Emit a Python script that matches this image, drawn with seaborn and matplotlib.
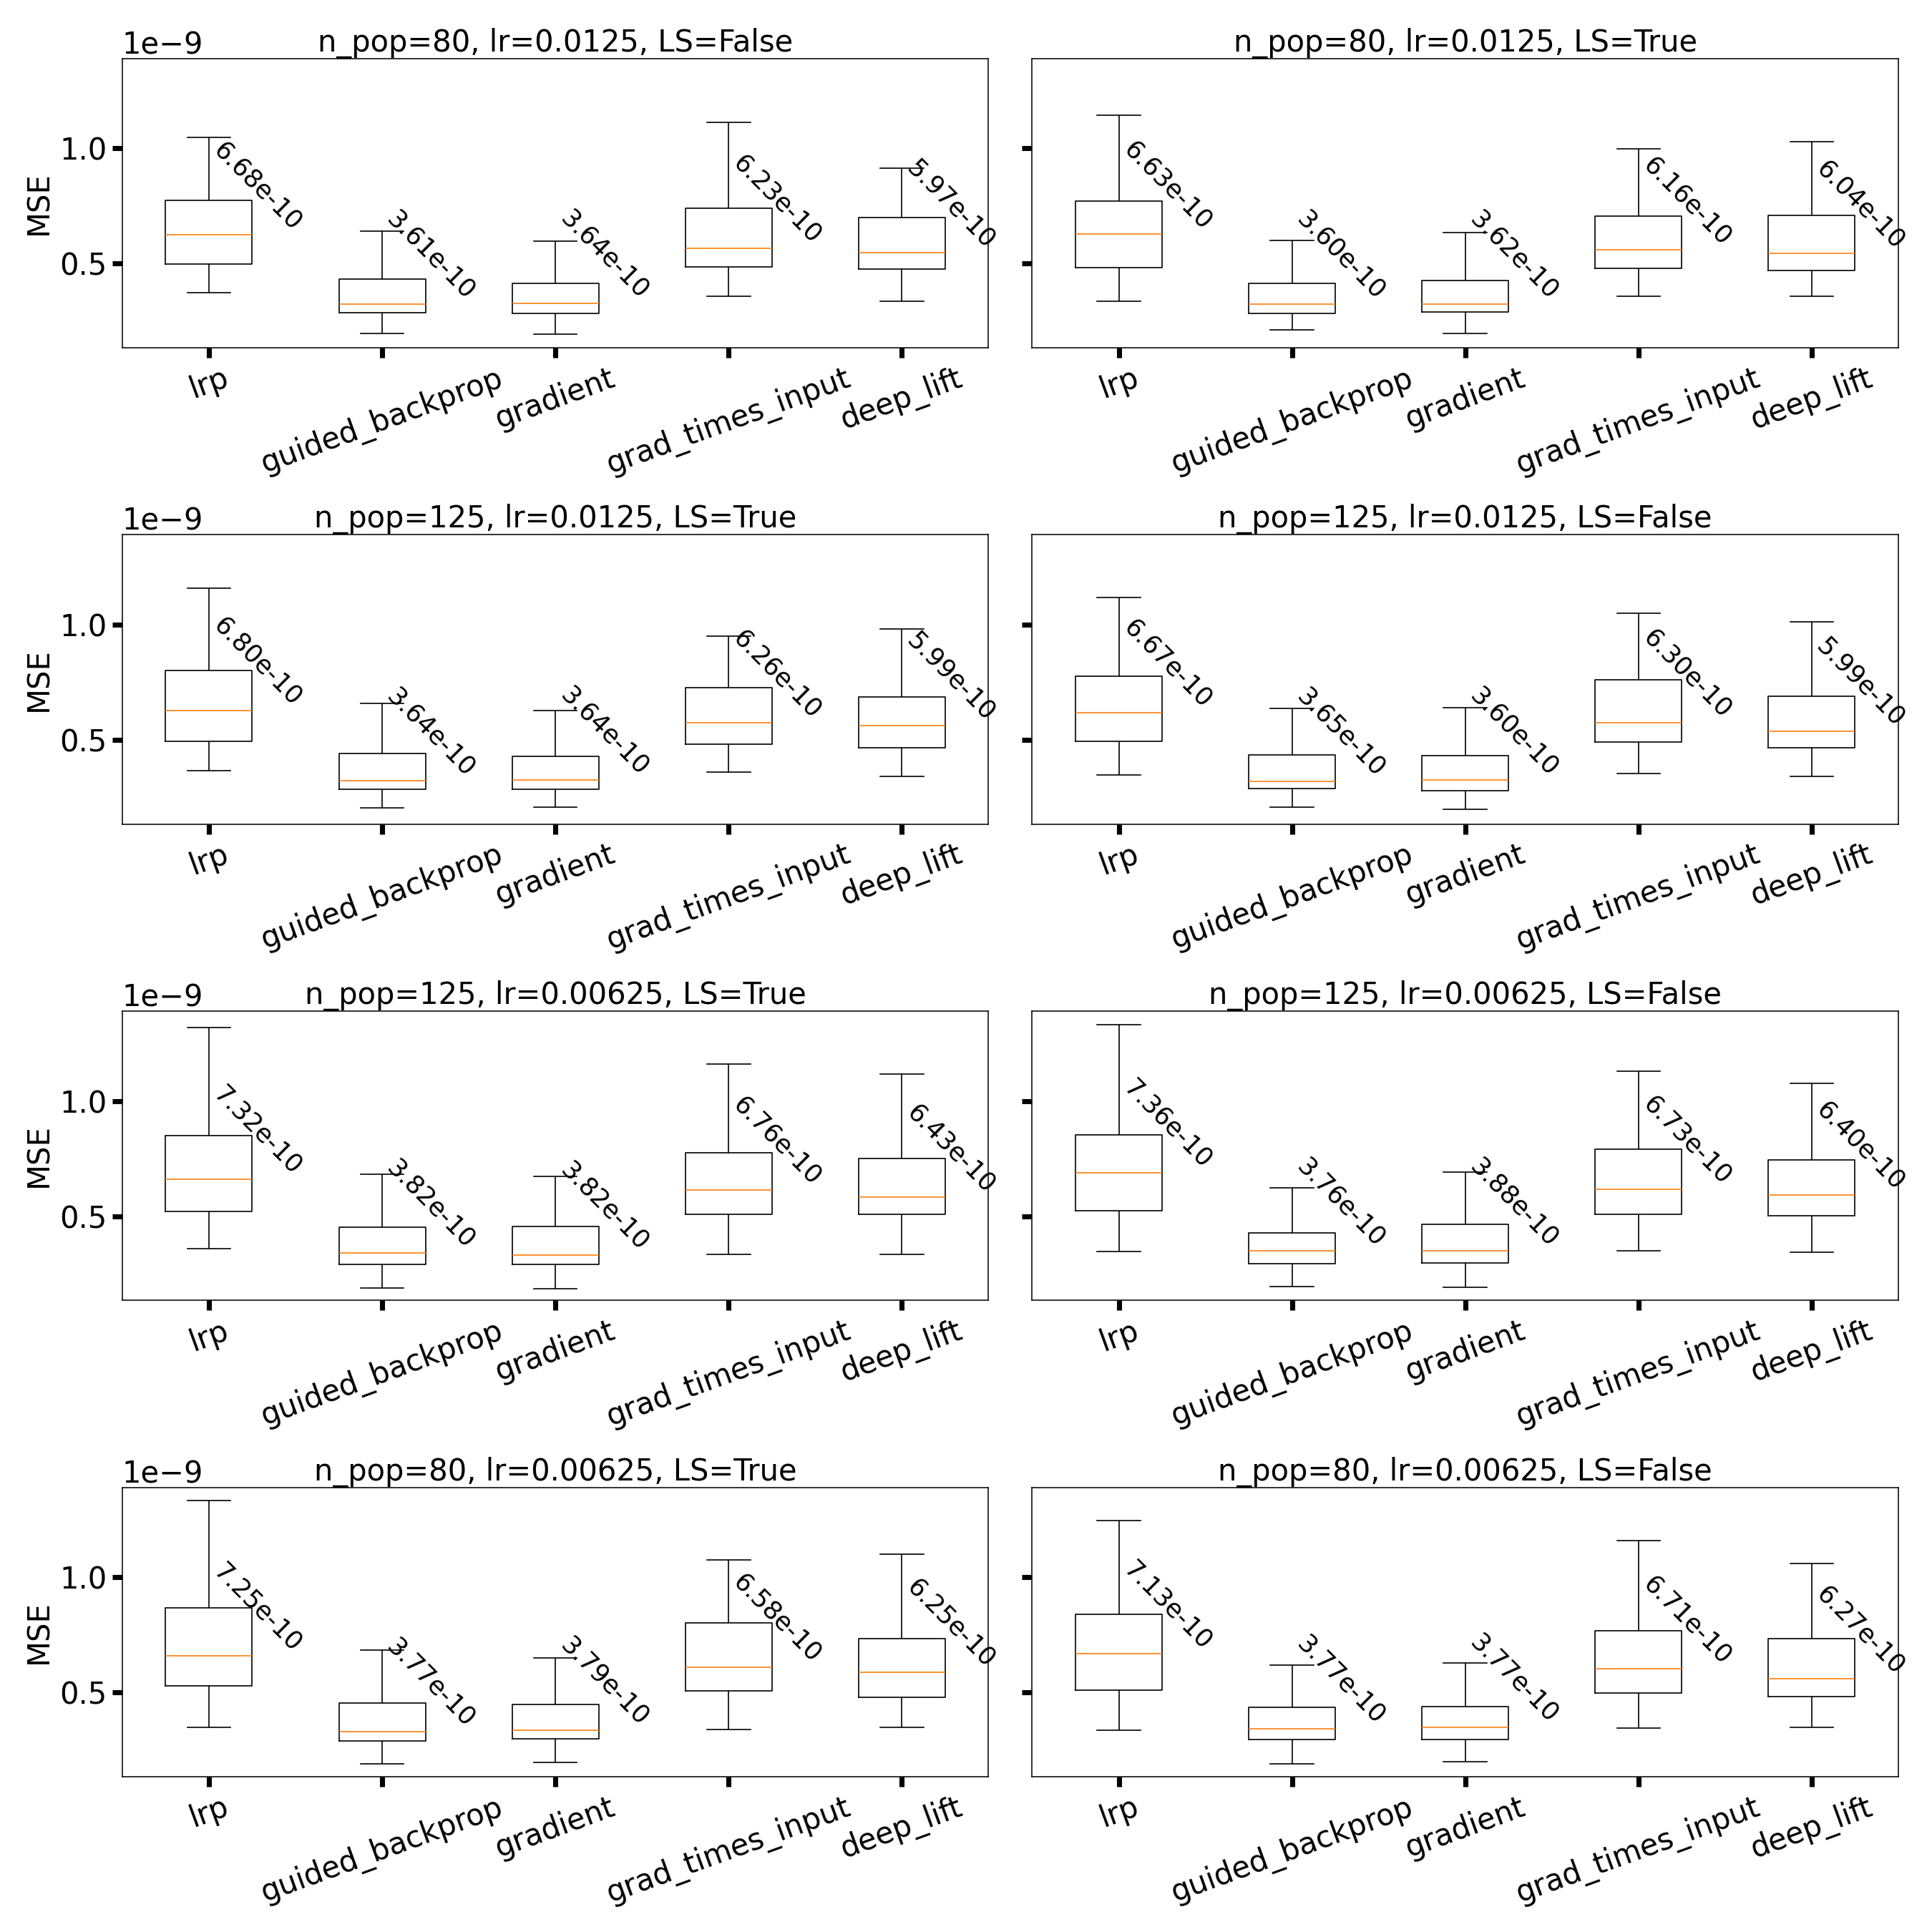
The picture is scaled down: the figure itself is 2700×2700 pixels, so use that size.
import matplotlib
matplotlib.use("Agg")
import matplotlib.pyplot as plt
from matplotlib.ticker import MultipleLocator
import pandas as pd
import seaborn as sns

methods = ["lrp", "guided_backprop", "gradient", "grad_times_input", "deep_lift"]

panel_titles = [
    "n_pop=80, lr=0.0125, LS=False",
    "n_pop=80, lr=0.0125, LS=True",
    "n_pop=125, lr=0.0125, LS=True",
    "n_pop=125, lr=0.0125, LS=False",
    "n_pop=125, lr=0.00625, LS=True",
    "n_pop=125, lr=0.00625, LS=False",
    "n_pop=80, lr=0.00625, LS=True",
    "n_pop=80, lr=0.00625, LS=False",
]

# five-number summaries, in units of 1e-9
whisker_low = [
    [0.372, 0.196, 0.193, 0.359, 0.337],
    [0.337, 0.212, 0.196, 0.359, 0.359],
    [0.365, 0.203, 0.207, 0.359, 0.341],
    [0.348, 0.206, 0.198, 0.354, 0.340],
    [0.360, 0.189, 0.185, 0.333, 0.333],
    [0.346, 0.195, 0.192, 0.350, 0.343],
    [0.349, 0.190, 0.197, 0.339, 0.349],
    [0.336, 0.189, 0.199, 0.346, 0.349],
]
quartile1 = [
    [0.496, 0.286, 0.284, 0.486, 0.475],
    [0.482, 0.284, 0.288, 0.478, 0.468],
    [0.494, 0.286, 0.284, 0.480, 0.465],
    [0.492, 0.287, 0.280, 0.489, 0.465],
    [0.520, 0.290, 0.290, 0.508, 0.508],
    [0.522, 0.292, 0.295, 0.507, 0.501],
    [0.527, 0.289, 0.297, 0.508, 0.480],
    [0.510, 0.296, 0.296, 0.496, 0.483],
]
medians = [
    [0.624, 0.324, 0.328, 0.566, 0.546],
    [0.627, 0.324, 0.324, 0.559, 0.543],
    [0.627, 0.321, 0.325, 0.573, 0.563],
    [0.619, 0.320, 0.324, 0.574, 0.538],
    [0.660, 0.340, 0.331, 0.613, 0.581],
    [0.688, 0.348, 0.348, 0.618, 0.591],
    [0.658, 0.331, 0.337, 0.609, 0.588],
    [0.667, 0.342, 0.349, 0.602, 0.559],
]
quartile3 = [
    [0.775, 0.433, 0.415, 0.740, 0.701],
    [0.771, 0.415, 0.427, 0.705, 0.708],
    [0.800, 0.440, 0.427, 0.728, 0.687],
    [0.775, 0.435, 0.430, 0.760, 0.688],
    [0.849, 0.451, 0.456, 0.775, 0.751],
    [0.854, 0.427, 0.463, 0.792, 0.743],
    [0.866, 0.455, 0.448, 0.802, 0.733],
    [0.838, 0.434, 0.437, 0.769, 0.734],
]
whisker_high = [
    [1.049, 0.642, 0.596, 1.112, 0.913],
    [1.145, 0.601, 0.635, 0.997, 1.029],
    [1.159, 0.659, 0.627, 0.950, 0.982],
    [1.117, 0.635, 0.638, 1.049, 1.011],
    [1.318, 0.682, 0.674, 1.160, 1.116],
    [1.333, 0.624, 0.691, 1.128, 1.076],
    [1.335, 0.684, 0.649, 1.074, 1.101],
    [1.245, 0.618, 0.627, 1.158, 1.059],
]
# mean MSE (annotated), in units of 1e-10
means = [
    [6.68, 3.61, 3.64, 6.23, 5.97],
    [6.63, 3.60, 3.62, 6.16, 6.04],
    [6.80, 3.64, 3.64, 6.26, 5.99],
    [6.67, 3.65, 3.60, 6.30, 5.99],
    [7.32, 3.82, 3.82, 6.76, 6.43],
    [7.36, 3.76, 3.88, 6.73, 6.40],
    [7.25, 3.77, 3.79, 6.58, 6.25],
    [7.13, 3.77, 3.77, 6.71, 6.27],
]

plt.rcParams.update({
    "font.family": ["DejaVu Sans"],
    "axes.linewidth": 0.75,
    "xtick.major.size": 6.7,
    "xtick.major.width": 3.4,
    "ytick.major.size": 6.7,
    "ytick.major.width": 3.4,
})

fig, axes = plt.subplots(4, 2, figsize=(18, 18), dpi=150, sharey=True)
fig.subplots_adjust(left=0.0633, right=0.9826, top=0.9698, bottom=0.0804,
                    hspace=0.646, wspace=0.0504)

for k, ax in enumerate(axes.flat):
    rows = []
    for i, m in enumerate(methods):
        for arr in (whisker_low, quartile1, medians, quartile3, whisker_high):
            rows.append({"method": m, "MSE": arr[k][i] * 1e-9})
    df = pd.DataFrame(rows)
    sns.boxplot(data=df, x="method", y="MSE", order=methods, ax=ax,
                whis=(0, 100), width=0.5, fill=False, color="black",
                linewidth=0.8, showfliers=False,
                medianprops={"color": "#ff7f0e", "linewidth": 0.8})
    for i, m in enumerate(methods):
        ax.text(i, medians[k][i] * 1e-9, f"{means[k][i] * 1e-10:.2e}",
                rotation=-45, ha="left", va="bottom", fontsize=17)
    ax.set_title(panel_titles[k], fontsize=20, pad=2)
    ax.set_xlabel("")
    if k % 2 == 0:
        ax.set_ylabel("MSE", fontsize=20)
    else:
        ax.set_ylabel("")
    ax.tick_params(axis="x", labelrotation=20, labelsize=20)
    ax.tick_params(axis="y", labelsize=20)
    ax.yaxis.set_major_locator(MultipleLocator(0.5e-9))
    ax.yaxis.get_offset_text().set_fontsize(20)
    ax.set_ylim(0.134e-9, 1.391e-9)
    ax.set_xlim(-0.5, 4.5)

fig.savefig("out.png", dpi=150, facecolor="white")
